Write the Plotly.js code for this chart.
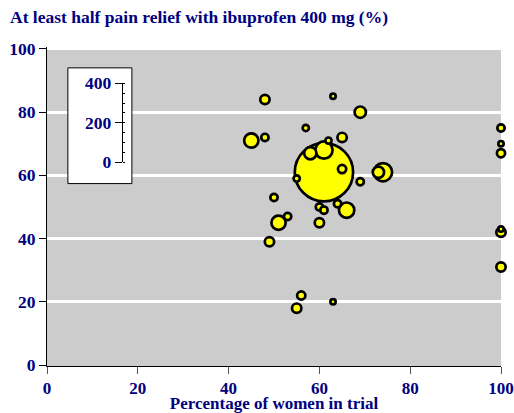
<!DOCTYPE html>
<html>
<head>
<meta charset="utf-8">
<script src="https://cdn.plot.ly/plotly-3.0.1.min.js"></script>
<style>html,body{margin:0;padding:0;background:#fff}#chart{width:514px;height:413px}</style>
</head>
<body>
<div id="chart"></div>
<script>
// Percentage of women in each trial
const womenPct = [48, 63, 69, 57, 45, 48, 65, 62, 61, 58, 61, 65, 55, 69, 73, 74, 50, 60, 61, 64, 66, 51, 53, 60, 49, 56, 55, 63, 100, 100, 100, 100, 100, 100];
// Percentage with at least half pain relief
const reliefPct = [84, 85, 80, 75, 71, 72, 72, 71, 68, 67, 61, 62, 59, 58, 61, 61, 53, 50, 49, 51, 49, 45, 47, 45, 39, 22, 18, 20, 75, 70, 67, 43, 42, 31];
// Trial size (patients), shown as bubble area
const trialSize = [16, 4, 25, 6, 42, 9, 16, 6, 64, 30, 812, 12, 6, 9, 25, 72, 9, 9, 9, 9, 49, 42, 9, 16, 16, 12, 16, 4, 9, 4, 12, 4, 16, 16];
// Size scale tick labels
const scaleTicks = [0, 200, 400];

const NAVY = '#000080';
const FAM = 'Liberation Serif, Times New Roman, serif';
const FONT = {family: FAM, color: NAVY, size: 17.5, weight: 'bold'};

// draw big bubbles first so small ones sit on top
const order = trialSize.map((v, i) => i).sort((a, b) => trialSize[b] - trialSize[a]);
const sx = order.map(i => womenPct[i]);
const sy = order.map(i => reliefPct[i]);
const sn = order.map(i => trialSize[i]);

const traces = [
  {
    type: 'scatter', mode: 'markers',
    x: sx, y: sy,
    marker: {
      size: sn.map(v => 2 * Math.sqrt(v) + 1.3),
      sizemode: 'diameter',
      color: '#ffff00',
      opacity: 1,
      line: {color: '#000000', width: 2.7}
    },
    cliponaxis: false,
    hoverinfo: 'x+y',
    showlegend: false
  },
  {type: 'scatter', mode: 'markers', x: [0.5], y: [null], xaxis: 'x2', yaxis: 'y2', showlegend: false, hoverinfo: 'skip'}
];

const layout = {
  width: 514, height: 413,
  margin: {l: 47, r: 13, t: 47, b: 47},
  paper_bgcolor: '#ffffff',
  plot_bgcolor: 'rgba(0,0,0,0)',
  font: FONT,
  showlegend: false,
  title: {
    text: 'At least half pain relief with ibuprofen 400 mg (%)',
    x: 10 / 514, xanchor: 'left', xref: 'container', y: 0.958, yanchor: 'middle',
    font: {family: FAM, color: NAVY, size: 17.5, weight: 'bold'}
  },
  xaxis: {
    range: [0, 100], domain: [0, 1],
    tickvals: [0, 20, 40, 60, 80, 100],
    ticks: 'outside', ticklen: 7, tickcolor: '#555555', tickwidth: 1,
    ticklabeloverflow: 'allow',
    showline: true, linecolor: '#000000', linewidth: 1,
    showgrid: false, zeroline: false,
    tickfont: {family: FAM, color: NAVY, size: 17, weight: 'bold'},
    title: {text: 'Percentage of women in trial', font: {family: FAM, color: NAVY, size: 17, weight: 'bold'}}
  },
  yaxis: {
    range: [-0.3, 100.6], domain: [0, 1],
    tickvals: [0, 20, 40, 60, 80, 100],
    ticks: 'outside', ticklen: 7, tickcolor: '#000000', tickwidth: 1,
    showline: true, linecolor: '#000000', linewidth: 1,
    showgrid: true, gridcolor: '#ffffff', gridwidth: 3,
    zeroline: false,
    tickfont: FONT
  },
  xaxis2: {
    domain: [0.1667, 0.1690], anchor: 'y2', range: [0, 1],
    showgrid: false, zeroline: false, showline: false, ticks: '', showticklabels: false
  },
  yaxis2: {
    domain: [0.6386, 0.8862], anchor: 'x2', range: [0, 400],
    tickvals: scaleTicks,
    ticks: 'outside', ticklen: 7, tickcolor: '#000000', tickwidth: 1,
    minor: {dtick: 50, ticks: 'inside', ticklen: 2, tickcolor: '#000000', showgrid: false},
    showline: true, linecolor: '#000000', linewidth: 1,
    showgrid: false, zeroline: false,
    tickfont: FONT
  },
  shapes: [
    {type: 'rect', xref: 'paper', yref: 'paper', x0: 0, x1: 1, y0: 0, y1: 1,
     fillcolor: '#cccccc', line: {width: 0}, layer: 'below'},
    {type: 'rect', xref: 'x', yref: 'y', x0: 4.6, x1: 18.7, y0: 57.4, y1: 94.0,
     fillcolor: '#ffffff', line: {color: '#000000', width: 1}, layer: 'between'}
  ]
};

Plotly.newPlot('chart', traces, layout, {displayModeBar: false, staticPlot: true});
</script>
</body>
</html>
